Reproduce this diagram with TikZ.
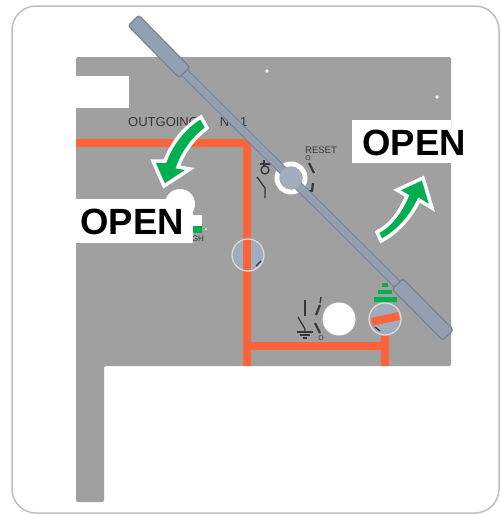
\documentclass[tikz,border=0pt]{standalone}
\usepackage{fontspec}
\setmainfont{Liberation Sans}
\definecolor{panel}{RGB}{160,160,160}
\definecolor{wire}{RGB}{255,99,58}
\definecolor{steel}{RGB}{160,173,190}
\definecolor{steelrod}{RGB}{146,160,178}
\definecolor{steeld}{RGB}{118,131,149}
\definecolor{arrowgreen}{RGB}{0,176,80}
\definecolor{ink}{RGB}{55,55,55}
\tikzset{
  wireline/.style={draw=wire,line width=7.5pt},
  symbol/.style={draw=ink,line width=1.3pt},
  symbolbold/.style={draw=ink,line width=2.2pt},
  greenarrow/.style={fill=arrowgreen,draw=white,line width=3.5pt,line join=miter},
  openlabel/.style={fill=white,font=\bfseries\fontsize{36.5}{36}\selectfont,inner sep=0pt,text=black,anchor=center},
  smalltext/.style={text=ink,inner sep=0pt},
  rodthin/.style={draw=steeld,line width=9pt},
  rodthinin/.style={draw=steelrod,line width=7pt},
  rodgrip/.style={fill=steelrod,draw=steeld,line width=1.2pt,rounded corners=2.5pt},
}
\begin{document}
\begin{tikzpicture}[x=1pt,y=-1pt]
\useasboundingbox (0,0) rectangle (500,514);
\fill[white] (0,0) rectangle (500,514);
\draw[draw=black!25,line width=1.5pt,rounded corners=24pt] (12,6) rectangle (499,513);
% panel
\fill[panel,rounded corners=2pt] (76,57) -- (451,57) -- (451,366) -- (104,366) -- (104,502) -- (76,502) -- cycle;
\fill[white] (76,76) rectangle (129,108);
\fill[white] (267,71) circle (1.8);
\fill[white] (437,97) circle (1.8);
% wires
\draw[wireline] (76,143) -- (247,143) -- (247,366);
\draw[wireline] (247,346) -- (385,346);
\draw[wireline] (385,335) -- (385,366);
% labels on the panel
\node[smalltext,font=\fontsize{13}{14}\selectfont,anchor=west] (outlbl) at (128,122) {OUTGOING\hspace{21pt}No.1};
\node[smalltext,font=\fontsize{9.5}{10}\selectfont,anchor=west] (resetlbl) at (305,150) {RESET};
\node[smalltext,font=\fontsize{7}{8}\selectfont] (zero1) at (308,158.5) {O};
\node[smalltext,font=\fontsize{7}{8}\selectfont] (zero2) at (321,338) {O};
\node[smalltext,font=\fontsize{8}{8}\selectfont,anchor=east] (highlbl) at (204,239) {GH};
% left white hole and indicator
\fill[white] (180,204) circle (15);
\fill[white] (180,215) rectangle (202,226);
\fill[arrowgreen] (185,226) rectangle (202,233);
\fill[white] (206,229) circle (1);
% indicator window on the vertical wire
\fill[steel] (248,255) circle (15.5);
\draw[wireline] (247,240) -- (247,271);
\draw[draw=white!85!black,line width=1.3pt] (248,255) circle (16);
\draw[draw=ink,line width=1.2pt] (256,266) -- (261,261);
% switch symbol near knob
\draw[symbol] (264,160) -- (264,166);
\draw[symbol] (260,164) -- (272,164);
\draw[symbol] (265,170) circle (4);
\draw[symbol] (257,177) -- (265,188) -- (265,198);
% reset marks
\draw[symbolbold] (309,163) -- (314,173);
\draw[symbolbold] (313,183) -- (312,191);
\draw[symbol] (307,191) -- (313,191);
% earth switch symbol
\draw[symbol] (305,300) -- (305,316);
\draw[symbol] (298,317) -- (305,329) -- (305,332);
\draw[symbol] (297,332) -- (313,332);
\draw[symbol] (300,335) -- (310,335);
\draw[symbol] (303,338) -- (307,338);
\draw[symbol] (321,297) -- (320,303);
\draw[symbolbold] (320,305) -- (316,315);
\draw[symbolbold] (315,323) -- (320,333);
% white circle
\fill[white] (339,319) circle (16.5);
% green stack
\fill[arrowgreen] (382,283) rectangle (388,287);
\fill[arrowgreen] (378,290) rectangle (392,294);
\fill[arrowgreen] (374,297) rectangle (397,302);
% indicator window right
\fill[steel] (385,319) circle (15.5);
\draw[draw=wire,line width=8pt] (371.5,322) -- (399,316);
\draw[draw=white!85!black,line width=1.3pt] (385,319) circle (16);
\draw[draw=ink,line width=1.2pt] (375,327) -- (380,331);
% knob ring
\draw[draw=white,line width=5pt] (291,178) circle (14);
% rod
\draw[rodthin] (184,72) -- (398,285);
\draw[rodthinin] (184,72) -- (398,285);
\fill[steel] (291,178) circle (11.5);
\draw[rodgrip] (138.8,15.2) -- (189.8,67.2) -- (179.2,77.8) -- (128.2,25.8) -- cycle;
\draw[rodgrip] (402.8,278.7) -- (453.3,329.7) -- (442.7,340.3) -- (392.2,289.3) -- cycle;
% arrows
\draw[greenarrow] (201,117) .. controls (184,127) and (172,143) .. (165,161)
  -- (153,161) -- (164,186) -- (190,169) -- (178,167)
  .. controls (184,151) and (193,139) .. (207,128) -- cycle;
\draw[greenarrow] (377,232) .. controls (390,226) and (400,212) .. (407,196)
  -- (397,190) -- (423,178) -- (432,208) -- (419,200)
  .. controls (411,217) and (398,232) .. (381,241) -- cycle;
% OPEN labels
\fill[white] (76,199) rectangle (193,243);
\node[openlabel] (openL) at (132,222) {OPEN};
\fill[white] (352,120) rectangle (451,163);
\node[openlabel] (openR) at (414,143) {OPEN};
\end{tikzpicture}
\end{document}
